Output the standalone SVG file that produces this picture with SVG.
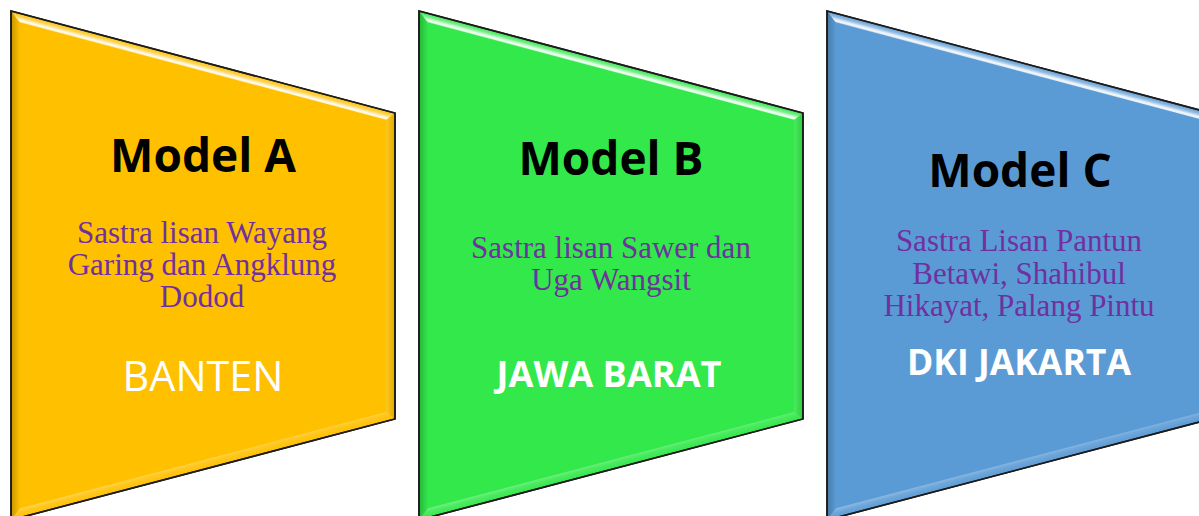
<svg xmlns="http://www.w3.org/2000/svg" width="1199" height="516" viewBox="0 0 1199 516">
  <defs>
    <!-- bevel overlays, defined in the local frame of one keystone panel -->
    <linearGradient id="bevelTop" gradientUnits="userSpaceOnUse" x1="192" y1="51" x2="189.6" y2="60">
      <stop offset="0" stop-color="#fff" stop-opacity="0"/>
      <stop offset="0.4" stop-color="#fff" stop-opacity="0.35"/>
      <stop offset="0.72" stop-color="#fff" stop-opacity="0.92"/>
      <stop offset="0.86" stop-color="#fff" stop-opacity="0.85"/>
      <stop offset="1" stop-color="#fff" stop-opacity="0.1"/>
    </linearGradient>
    <linearGradient id="bevelBottom" gradientUnits="userSpaceOnUse" x1="192" y1="449" x2="194.4" y2="458">
      <stop offset="0" stop-color="#fff" stop-opacity="0.28"/>
      <stop offset="0.35" stop-color="#fff" stop-opacity="0.12"/>
      <stop offset="1" stop-color="#fff" stop-opacity="0"/>
    </linearGradient>
    <linearGradient id="bevelLeft" gradientUnits="userSpaceOnUse" x1="0" y1="0" x2="9" y2="0">
      <stop offset="0" stop-color="#000" stop-opacity="0.22"/>
      <stop offset="1" stop-color="#000" stop-opacity="0"/>
    </linearGradient>
    <linearGradient id="bevelRight" gradientUnits="userSpaceOnUse" x1="375" y1="0" x2="384" y2="0">
      <stop offset="0" stop-color="#fff" stop-opacity="0.12"/>
      <stop offset="1" stop-color="#000" stop-opacity="0.12"/>
    </linearGradient>
    <g id="panel-bevel">
      <polygon points="0,0 384,102 375,108.9 9,11.7" fill="url(#bevelTop)"/>
      <polygon points="0,0 9,11.7 9,497.3 0,509" fill="url(#bevelLeft)"/>
      <polygon points="384,102 384,408 375,401.1 375,108.9" fill="url(#bevelRight)"/>
      <polygon points="9,497.3 375,401.1 384,408 0,509" fill="url(#bevelBottom)"/>
    </g>
  </defs>
  <style>
    .outline { stroke: #1c1c1c; stroke-width: 1.6; stroke-linejoin: miter; }
    .title { font-family: "Open Sans", "Liberation Sans", sans-serif; font-weight: 700; font-size: 46px; fill: #000; text-anchor: middle; }
    .desc { font-family: "Liberation Serif", "Times New Roman", serif; font-size: 31px; fill: #7030A0; text-anchor: middle; }
    .region { font-family: "Open Sans", "Liberation Sans", sans-serif; fill: #fff; text-anchor: middle; }
  </style>

  <rect width="1199" height="516" fill="#fff"/>

  <!-- connectors: none drawn between the panels -->
  <g id="connectors"/>

  <g id="model-a">
    <g transform="translate(11,11)">
      <polygon class="outline" points="0,0 384,102 384,408 0,509" fill="#FFC000"/>
      <use href="#panel-bevel"/>
      <polygon points="0,0 384,102 384,408 0,509" fill="none" class="outline"/>
    </g>
    <text class="title" x="203" y="172">Model A</text>
    <text class="desc" x="202" y="243">Sastra lisan Wayang</text>
    <text class="desc" x="202" y="275">Garing dan Angklung</text>
    <text class="desc" x="202" y="307">Dodod</text>
    <text class="region" x="203" y="391" font-size="42" font-weight="400" textLength="161" lengthAdjust="spacingAndGlyphs">BANTEN</text>
  </g>

  <g id="model-b">
    <g transform="translate(419,11)">
      <polygon class="outline" points="0,0 384,102 384,408 0,509" fill="#32E84A"/>
      <use href="#panel-bevel"/>
      <polygon points="0,0 384,102 384,408 0,509" fill="none" class="outline"/>
    </g>
    <text class="title" x="611" y="175">Model B</text>
    <text class="desc" x="611" y="258">Sastra lisan Sawer dan</text>
    <text class="desc" x="611" y="290">Uga Wangsit</text>
    <text class="region" x="609" y="387" font-size="35" font-weight="700" textLength="225" lengthAdjust="spacingAndGlyphs">JAWA BARAT</text>
  </g>

  <g id="model-c">
    <g transform="translate(827,11)">
      <polygon class="outline" points="0,0 384,102 384,408 0,509" fill="#5B9BD5"/>
      <use href="#panel-bevel"/>
      <polygon points="0,0 384,102 384,408 0,509" fill="none" class="outline"/>
    </g>
    <text class="title" x="1020" y="187">Model C</text>
    <text class="desc" x="1019" y="251">Sastra Lisan Pantun</text>
    <text class="desc" x="1019" y="284">Betawi, Shahibul</text>
    <text class="desc" x="1019" y="316">Hikayat, Palang Pintu</text>
    <text class="region" x="1019" y="375" font-size="35" font-weight="700" textLength="224" lengthAdjust="spacingAndGlyphs">DKI JAKARTA</text>
  </g>
</svg>
